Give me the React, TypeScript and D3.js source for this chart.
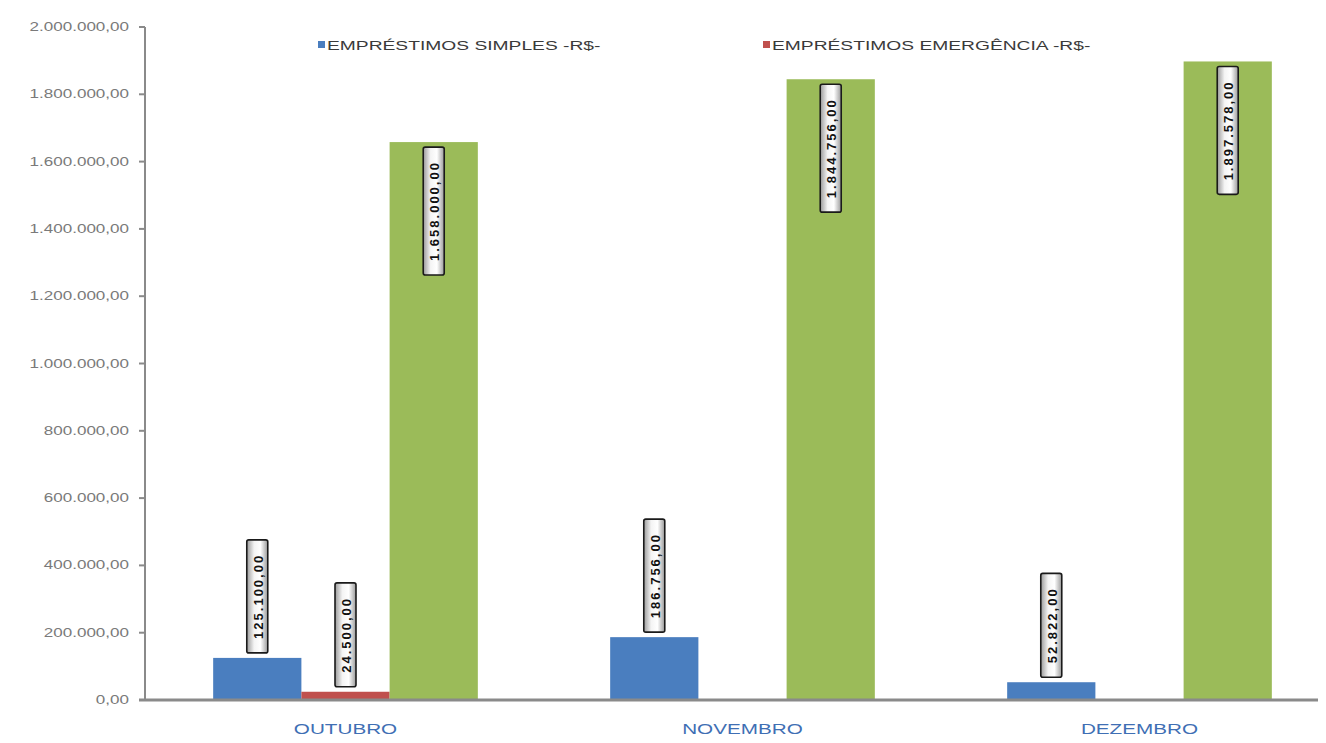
import React, { useEffect, useRef } from "react";
import * as d3 from "d3";

const categories = ["OUTUBRO", "NOVEMBRO", "DEZEMBRO"];
const seriesNames = ["EMPRÉSTIMOS SIMPLES -R$-", "EMPRÉSTIMOS EMERGÊNCIA -R$-", "TOTAL -R$-"];
const simplesValues = [125100, 186756, 52822];
const emergenciaValues = [24500, 0, 0];
const totalValues = [1658000, 1844756, 1897578];
const yTickValues = [0, 200000, 400000, 600000, 800000, 1000000, 1200000, 1400000, 1600000, 1800000, 2000000];
const seriesColors = ["#4A7EBF", "#C0504D", "#9BBB59"];
const legendSeries = [0, 1];

const W = 1326;
const H = 743;

export default function App() {
  const ref = useRef<SVGSVGElement | null>(null);

  useEffect(() => {
    const svg = d3.select(ref.current);
    svg.selectAll("*").remove();

    const locale = d3.formatLocale({ decimal: ",", thousands: ".", grouping: [3], currency: ["R$", ""] });
    const fmt = locale.format(",.2f");

    const series = [simplesValues, emergenciaValues, totalValues];
    const font = "'Liberation Sans', Arial, sans-serif";
    const stretch = 1.42;

    const y = d3.scaleLinear().domain([0, 2000000]).range([700, 27]);
    const x0 = d3.scaleBand<string>().domain(categories).range([147, 1338]).padding(0);
    const x1 = d3
      .scaleBand<number>()
      .domain([0, 1, 2])
      .range([0, x0.bandwidth()])
      .paddingInner(0)
      .paddingOuter(0.75);

    const defs = svg.append("defs");
    const grad = defs
      .append("linearGradient")
      .attr("id", "lblgrad")
      .attr("x1", 0)
      .attr("y1", 0)
      .attr("x2", 0)
      .attr("y2", 1);
    grad.append("stop").attr("offset", "0%").attr("stop-color", "#9a9a9a");
    grad.append("stop").attr("offset", "35%").attr("stop-color", "#f4f4f4");
    grad.append("stop").attr("offset", "65%").attr("stop-color", "#ffffff");
    grad.append("stop").attr("offset", "100%").attr("stop-color", "#9a9a9a");

    svg.append("rect").attr("width", W).attr("height", H).attr("fill", "#ffffff");

    // Y axis
    const yAxisX = 145;
    svg
      .append("line")
      .attr("x1", yAxisX)
      .attr("x2", yAxisX)
      .attr("y1", y(2000000))
      .attr("y2", y(0))
      .attr("stroke", "#8a8a8a")
      .attr("stroke-width", 2);
    const yt = svg.append("g").selectAll("g").data(yTickValues).join("g");
    yt.append("line")
      .attr("x1", yAxisX - 6)
      .attr("x2", yAxisX)
      .attr("y1", (d) => y(d))
      .attr("y2", (d) => y(d))
      .attr("stroke", "#8a8a8a")
      .attr("stroke-width", 2);
    yt.append("text")
      .attr("transform", (d) => `translate(${yAxisX - 16},${y(d)}) scale(${stretch},1)`)
      .attr("text-anchor", "end")
      .attr("dominant-baseline", "central")
      .attr("font-family", font)
      .attr("font-size", 12)
      .attr("fill", "#7a7a7a")
      .text((d) => fmt(d));

    // Bars
    const groups = svg
      .append("g")
      .selectAll("g")
      .data(categories)
      .join("g")
      .attr("transform", (d) => `translate(${x0(d)},0)`);

    groups.each(function (cat, ci) {
      const g = d3.select(this);
      series.forEach((vals, si) => {
        const v = vals[ci];
        const bx = x1(si)!;
        const bw = x1.bandwidth();
        g.append("rect")
          .attr("x", bx)
          .attr("y", y(v))
          .attr("width", bw)
          .attr("height", y(0) - y(v))
          .attr("fill", seriesColors[si]);
      });
    });

    // X axis baseline
    svg
      .append("line")
      .attr("x1", yAxisX - 6)
      .attr("x2", 1318)
      .attr("y1", y(0))
      .attr("y2", y(0))
      .attr("stroke", "#8a8a8a")
      .attr("stroke-width", 3);

    // Category labels
    svg
      .append("g")
      .selectAll("text")
      .data(categories)
      .join("text")
      .attr("transform", (d) => `translate(${x0(d)! + x0.bandwidth() / 2},${729}) scale(1.38,1)`)
      .attr("text-anchor", "middle")
      .attr("dominant-baseline", "central")
      .attr("font-family", font)
      .attr("font-size", 15)
      .attr("fill", "#3F6FB4")
      .text((d) => d);

    // Data labels
    const labelLayer = svg.append("g");
    categories.forEach((cat, ci) => {
      series.forEach((vals, si) => {
        const v = vals[ci];
        if (!v) return;
        const cx = x0(cat)! + x1(si)! + x1.bandwidth() / 2;
        const top = y(v);
        const inside = si === 2;
        const g = labelLayer.append("g").attr("transform", `translate(${cx},${top}) rotate(-90)`);
        const rect = g.append("rect");
        const t = g
          .append("text")
          .attr("font-family", font)
          .attr("font-size", 13)
          .attr("font-weight", "bold")
          .attr("letter-spacing", 2)
          .attr("fill", "#111")
          .attr("dominant-baseline", "central")
          .text(fmt(v));
        const len = (t.node() as SVGTextElement).getComputedTextLength();
        const pad = 14;
        const gap = 5;
        const thick = 21;
        const boxLen = len + pad * 2;
        const start = inside ? -(gap + boxLen) : gap;
        rect
          .attr("x", start)
          .attr("y", -thick / 2)
          .attr("width", boxLen)
          .attr("height", thick)
          .attr("rx", 2)
          .attr("fill", "url(#lblgrad)")
          .attr("stroke", "#1a1a1a")
          .attr("stroke-width", 1.6);
        t.attr("x", start + pad).attr("y", 1);
      });
    });

    // Legend
    const legendX = [318, 763];
    const lg = svg
      .append("g")
      .selectAll("g")
      .data(legendSeries)
      .join("g")
      .attr("transform", (d, i) => `translate(${legendX[i]},45)`);
    lg.append("rect")
      .attr("x", 0)
      .attr("y", -4)
      .attr("width", 7)
      .attr("height", 7)
      .attr("fill", (d) => seriesColors[d]);
    lg.append("text")
      .attr("transform", `translate(9,0) scale(1.48,1)`)
      .attr("dominant-baseline", "central")
      .attr("font-family", font)
      .attr("font-size", 13)
      .attr("fill", "#3a3a3a")
      .text((d) => seriesNames[d]);
  }, []);

  return (
    <svg
      ref={ref}
      width={W}
      height={H}
      style={{ position: "absolute", left: 0, top: 0, display: "block" }}
    />
  );
}
